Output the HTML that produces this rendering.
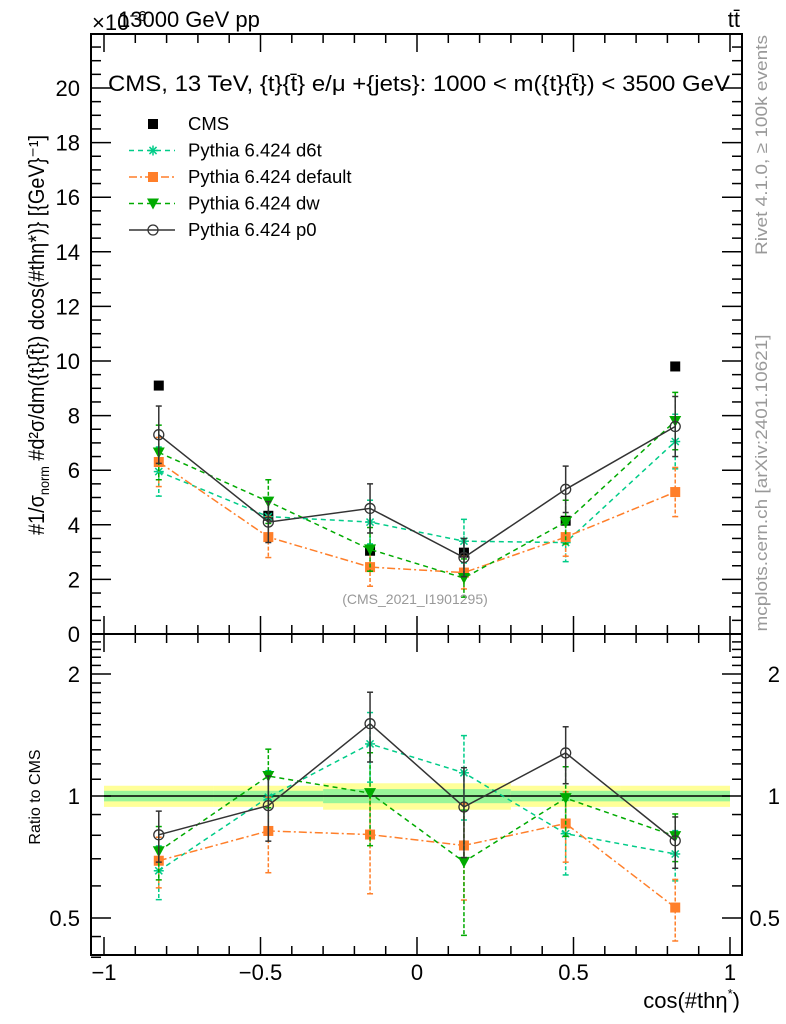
<!DOCTYPE html>
<html><head><meta charset="utf-8"><style>
body{margin:0;background:#fff}
svg{display:block;font-family:"Liberation Sans",sans-serif}
</style></head><body>
<svg id="c" width="786" height="1024" viewBox="0 0 786 1024">
<rect width="786" height="1024" fill="#fff"/>
<g id="bands"></g>
<g id="axes"></g>
<g id="series"></g>
<text x="92" y="30" font-size="22">×10<tspan dy="-9" font-size="15">−6</tspan></text>
<text x="118" y="27" font-size="22">13000 GeV pp</text>
<text x="740" y="27" font-size="22" text-anchor="end">tt̄</text>
<text x="108" y="91" font-size="22" textLength="622" lengthAdjust="spacingAndGlyphs">CMS, 13 TeV, {t}{t̄} e/μ +{jets}: 1000 &lt; m({t}{t̄}) &lt; 3500 GeV</text>
<text x="415" y="604" font-size="14" fill="#999" text-anchor="middle">(CMS_2021_I1901295)</text>
<text transform="translate(767,145) rotate(-90)" font-size="17" fill="#999" text-anchor="middle" textLength="220" lengthAdjust="spacingAndGlyphs">Rivet 4.1.0, ≥ 100k events</text>
<text transform="translate(767,483) rotate(-90)" font-size="17" fill="#999" text-anchor="middle" textLength="297" lengthAdjust="spacingAndGlyphs">mcplots.cern.ch [arXiv:2401.10621]</text>
<text transform="translate(44,335) rotate(-90)" font-size="22" text-anchor="middle" textLength="400" lengthAdjust="spacingAndGlyphs">#1/σ<tspan font-size="14" dy="5">norm</tspan><tspan dy="-5"> #d²σ/dm({t}{t̄}) dcos(#thη*)} [{GeV}⁻¹]</tspan></text>
<text transform="translate(40,797) rotate(-90)" font-size="16" text-anchor="middle">Ratio to CMS</text>
<text x="740" y="1008" font-size="22" text-anchor="end">cos(#thη<tspan dy="-10" font-size="13">*</tspan><tspan dy="10">)</tspan></text>
<g id="legend"></g>
</svg>
<script>
const xCenters=[-0.825,-0.475,-0.15,0.15,0.475,0.825];
const binEdges=[-1,-0.65,-0.3,0,0.3,0.65,1];
const cmsVals=[9.1,4.33,3.05,2.98,4.15,9.8];
const d6tVals=[5.95,4.3,4.1,3.4,3.35,7.05];
const d6tErr=[0.9,0.7,0.8,0.8,0.7,1.0];
const defVals=[6.3,3.55,2.45,2.25,3.55,5.2];
const defErr=[0.9,0.75,0.7,0.6,0.7,0.9];
const dwVals=[6.65,4.85,3.1,2.05,4.1,7.8];
const dwErr=[1.0,0.8,0.8,0.7,0.8,1.05];
const p0Vals=[7.3,4.1,4.6,2.8,5.3,7.6];
const p0Err=[1.05,0.75,0.9,0.7,0.85,1.1];
const bandYellow=[0.06,0.06,0.075,0.075,0.06,0.06];
const bandGreen=[0.03,0.03,0.04,0.04,0.03,0.03];
const yTicks=[0,2,4,6,8,10,12,14,16,18,20];
const rTicks=[0.5,1,2];
const xTicks=[-1,-0.5,0,0.5,1];

const NS="http://www.w3.org/2000/svg";
const X=v=>104+(v+1)*313;
const Y=v=>634-v*27.3;
const R=v=>796-Math.log2(v)*122;
function mk(p,tag,a){const e=document.createElementNS(NS,tag);for(const k in a)e.setAttribute(k,a[k]);p.appendChild(e);return e;}
const ax=document.getElementById('axes'),se=document.getElementById('series'),bd=document.getElementById('bands'),lg=document.getElementById('legend');

for(let i=0;i<6;i++){
 const y1=mk(bd,'rect',{x:X(binEdges[i]),width:X(binEdges[i+1])-X(binEdges[i]),y:R(1+bandYellow[i]),height:R(1-bandYellow[i])-R(1+bandYellow[i]),fill:'#ffff99'});
 
 
 const g1=mk(bd,'rect',{x:X(binEdges[i]),width:X(binEdges[i+1])-X(binEdges[i]),y:R(1+bandGreen[i]),height:R(1-bandGreen[i])-R(1+bandGreen[i]),fill:'#99f599'});
 
 
}
mk(bd,'line',{x1:X(-1),x2:X(1),y1:R(1),y2:R(1),stroke:'#000','stroke-width':1.5});

for(const [t,b] of [[34,634],[634,955]]){
 const f=mk(ax,'rect',{x:91,y:t,width:651,height:b-t,fill:'none',stroke:'#000','stroke-width':2});
 
 
}
for(let v=-1;v<=1.0001;v+=0.1){
 const maj=Math.abs(v*2-Math.round(v*2))<1e-6;const L=maj?18:9;const px=X(v);
 for(const [t,b] of [[34,634],[634,955]]){
  mk(ax,'line',{x1:px,x2:px,y1:b,y2:b-L,stroke:'#000','stroke-width':1.5});
  mk(ax,'line',{x1:px,x2:px,y1:t,y2:t+L,stroke:'#000','stroke-width':1.5});
 }
}
xTicks.forEach(v=>{const t=mk(ax,'text',{x:X(v),y:980,'font-size':22,'text-anchor':'middle'});t.textContent=(v<0?'−':'')+Math.abs(v);
 
 });
for(let v=0;v<=21.9;v+=0.5){const maj=Math.abs(v/2-Math.round(v/2))<1e-6;const L=maj?20:10;const py=Y(v);
 mk(ax,'line',{x1:91,x2:91+L,y1:py,y2:py,stroke:'#000','stroke-width':1.5});
 mk(ax,'line',{x1:742,x2:742-L,y1:py,y2:py,stroke:'#000','stroke-width':1.5});}
yTicks.forEach(v=>{const t=mk(ax,'text',{x:80,y:Y(v)+8,'font-size':22,'text-anchor':'end'});t.textContent=v;
 
 });
for(let v=0.5;v<=2.5;v+=0.1){const maj=[0.5,1,2].some(m=>Math.abs(m-v)<1e-6);const L=maj?20:10;const py=R(v);if(py<634)continue;
 mk(ax,'line',{x1:91,x2:91+L,y1:py,y2:py,stroke:'#000','stroke-width':1.5});
 mk(ax,'line',{x1:742,x2:742-L,y1:py,y2:py,stroke:'#000','stroke-width':1.5});}
mk(ax,'line',{x1:91,x2:101,y1:R(0.45),y2:R(0.45),stroke:'#000','stroke-width':1.5});
mk(ax,'line',{x1:91,x2:101,y1:R(0.4),y2:R(0.4),stroke:'#000','stroke-width':1.5});
rTicks.forEach(v=>{for(const xx of [80,780]){const t=mk(ax,'text',{x:xx,y:R(v)+8,'font-size':22,'text-anchor':'end'});t.textContent=v;
 
 }});

function marker(g,type,x,y,col){
 if(type==='sq')mk(g,'rect',{x:x-5,y:y-5,width:10,height:10,fill:col});
 else if(type==='tri')mk(g,'path',{d:`M${x-6},${y-5}L${x+6},${y-5}L${x},${y+6}Z`,fill:col});
 else if(type==='circ')mk(g,'circle',{cx:x,cy:y,r:5,fill:'none',stroke:col,'stroke-width':1.3});
 else if(type==='star'){for(let a=0;a<4;a++){const t=a*Math.PI/4;mk(g,'line',{x1:x-5*Math.cos(t),y1:y-5*Math.sin(t),x2:x+5*Math.cos(t),y2:y+5*Math.sin(t),stroke:col,'stroke-width':1.5});}}
}
const series=[
 {n:'d6t',v:d6tVals,e:d6tErr,c:'#00cc88',d:'5,4',m:'star'},
 {n:'default',v:defVals,e:defErr,c:'#ff7f2a',d:'8,3,2,3',m:'sq'},
 {n:'dw',v:dwVals,e:dwErr,c:'#00aa00',d:'5,4',m:'tri'},
 {n:'p0',v:p0Vals,e:p0Err,c:'#333333',d:'',m:'circ'}];
const cg=mk(se,'g',{});


xCenters.forEach((x,i)=>marker(cg,'sq',X(x),Y(cmsVals[i]),'#000'));
series.forEach(s=>{
 for(const panel of ['main','ratio']){
  const g=mk(se,'g',{});
  
  
  const fy=(i)=>panel==='main'?Y(s.v[i]):R(s.v[i]/cmsVals[i]);
  const fe=(i,sg)=>panel==='main'?Y(s.v[i]+sg*s.e[i]):R((s.v[i]+sg*s.e[i])/cmsVals[i]);
  const pts=xCenters.map((x,i)=>X(x)+','+fy(i)).join(' ');
  mk(g,'polyline',{points:pts,fill:'none',stroke:s.c,'stroke-width':1.5,'stroke-dasharray':s.d});
  xCenters.forEach((x,i)=>{const px=X(x);
   mk(g,'line',{x1:px,x2:px,y1:fe(i,1),y2:fe(i,-1),stroke:s.c,'stroke-width':1.5,'stroke-dasharray':s.d?'4,2':''});
   mk(g,'line',{x1:px-3,x2:px+3,y1:fe(i,1),y2:fe(i,1),stroke:s.c,'stroke-width':1.5});
   mk(g,'line',{x1:px-3,x2:px+3,y1:fe(i,-1),y2:fe(i,-1),stroke:s.c,'stroke-width':1.5});
   marker(g,s.m,px,fy(i),s.c);});
 }
});

const items=[{l:'CMS',m:'sq',c:'#000',d:null},...series.map(s=>({l:'Pythia 6.424 '+s.n,m:s.m,c:s.c,d:s.d}))];
items.forEach((it,i)=>{const y=124+i*26.5;
 const g=mk(lg,'g',{});
 
 
 if(it.d!==null)mk(g,'line',{x1:129,x2:175,y1:y,y2:y,stroke:it.c,'stroke-width':1.5,'stroke-dasharray':it.d});
 marker(g,it.m,153,y,it.c);
 const t=mk(g,'text',{x:188,y:y+6,'font-size':18.5});t.textContent=it.l;});
</script>
</body></html>
